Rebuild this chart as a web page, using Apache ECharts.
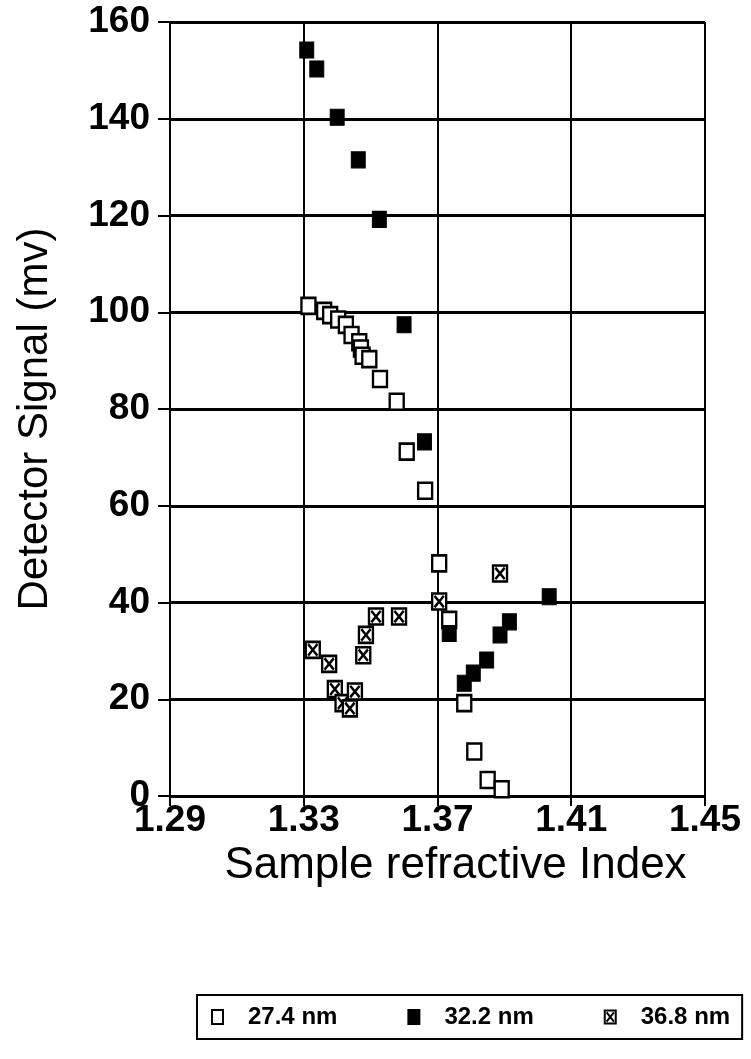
<!DOCTYPE html>
<html>
<head>
<meta charset="utf-8">
<script src="https://cdn.jsdelivr.net/npm/echarts@6/dist/echarts.min.js"></script>
<style>
html,body{margin:0;padding:0;background:#fff;}
#c{width:751px;height:1059px;}
</style>
</head>
<body>
<div id="c"></div>
<script>
// ---- data ----
const seriesNames = ['27.4 nm', '32.2 nm', '36.8 nm'];

const openX = [1.3314, 1.3361, 1.3379, 1.3403, 1.3426, 1.3443, 1.3466, 1.3471, 1.3476, 1.3496, 1.3528, 1.3578, 1.3608, 1.3663, 1.3705, 1.3735, 1.3780, 1.3810, 1.3850, 1.3892];
const openY = [101.3, 100.3, 99.4, 98.5, 97.4, 95.3, 93.8, 92.5, 91.0, 90.3, 86.2, 81.5, 71.2, 63.1, 48.1, 36.4, 19.2, 9.2, 3.3, 1.4];

const filledX = [1.3309, 1.3339, 1.3400, 1.3463, 1.3526, 1.3600, 1.3661, 1.3735, 1.3780, 1.3807, 1.3847, 1.3887, 1.3915, 1.4034];
const filledY = [154.2, 150.3, 140.3, 131.5, 119.2, 97.4, 73.2, 33.6, 23.3, 25.4, 28.1, 33.3, 36.0, 41.2];

const crossX = [1.3327, 1.3376, 1.3393, 1.3416, 1.3438, 1.3453, 1.3478, 1.3486, 1.3516, 1.3585, 1.3705, 1.3887];
const crossY = [30.2, 27.3, 22.1, 19.2, 18.1, 21.6, 29.1, 33.3, 37.1, 37.1, 40.2, 46.0];

const xMin = 1.29, xMax = 1.45, xStep = 0.04;
const yMin = 0, yMax = 160, yStep = 20;
const xTitle = 'Sample refractive Index';
const yTitle = 'Detector Signal (mv)';

function pairs(xs, ys) { return xs.map((x, i) => [x, ys[i]]); }

const FONT = '"Liberation Sans", Arial, Helvetica, sans-serif';
const crossPath = 'path://M0,0H12V14H0Z M2,2L10,12 M10,2L2,12';

const chart = echarts.init(document.getElementById('c'), null, {renderer: 'canvas'});
chart.setOption({
  animation: false,
  backgroundColor: '#fff',
  textStyle: {fontFamily: FONT, color: '#000'},
  grid: {left: 170, right: 46, top: 22, bottom: 263, containLabel: false},
  xAxis: {
    type: 'value', min: xMin, max: xMax, interval: xStep,
    name: xTitle, nameLocation: 'middle', nameGap: 40,
    nameTextStyle: {fontSize: 44, fontFamily: FONT, color: '#000', padding: [0, 0, 0, 36]},
    axisLine: {show: true, onZero: false, lineStyle: {color: '#000', width: 2}},
    axisTick: {show: true, inside: false, length: 10, lineStyle: {color: '#000', width: 2}},
    axisLabel: {fontSize: 37, fontWeight: 'bold', fontFamily: FONT, color: '#000', margin: 6,
      formatter: v => v.toFixed(2)},
    splitLine: {show: true, lineStyle: {color: '#000', width: 2}}
  },
  yAxis: {
    type: 'value', min: yMin, max: yMax, interval: yStep,
    name: yTitle, nameLocation: 'middle', nameGap: 114, nameRotate: 90,
    nameTextStyle: {fontSize: 42, fontFamily: FONT, color: '#000', padding: [0, 20, 0, 0]},
    axisLine: {show: true, onZero: false, lineStyle: {color: '#000', width: 2}},
    axisTick: {show: true, inside: false, length: 12, lineStyle: {color: '#000', width: 2}},
    axisLabel: {fontSize: 37, fontWeight: 'bold', fontFamily: FONT, color: '#000', margin: 20},
    splitLine: {show: true, lineStyle: {color: '#000', width: 3}}
  },
  legend: {
    show: true, left: 197, top: 995, width: 640,
    orient: 'horizontal',
    data: seriesNames,
    itemWidth: 11, itemHeight: 14, itemGap: 70,
    padding: [10, 12, 10, 14],
    borderColor: '#000', borderWidth: 2, borderRadius: 0,
    textStyle: {fontSize: 24, fontWeight: 'bold', fontFamily: FONT, color: '#000', padding: [0, 0, 0, 20]}
  },
  series: [
    {
      name: seriesNames[0], type: 'scatter', symbol: 'rect', symbolSize: [14, 16],
      itemStyle: {color: '#fff', borderColor: '#000', borderWidth: 2.5, opacity: 1},
      data: pairs(openX, openY), z: 3
    },
    {
      name: seriesNames[1], type: 'scatter', symbol: 'rect', symbolSize: [14, 16],
      itemStyle: {color: '#000', borderColor: '#000', borderWidth: 1, opacity: 1},
      data: pairs(filledX, filledY), z: 4
    },
    {
      name: seriesNames[2], type: 'scatter', symbol: crossPath, symbolSize: [14, 16],
      itemStyle: {color: '#fff', borderColor: '#000', borderWidth: 2.5, opacity: 1},
      data: pairs(crossX, crossY), z: 5
    }
  ]
});
</script>
</body>
</html>
